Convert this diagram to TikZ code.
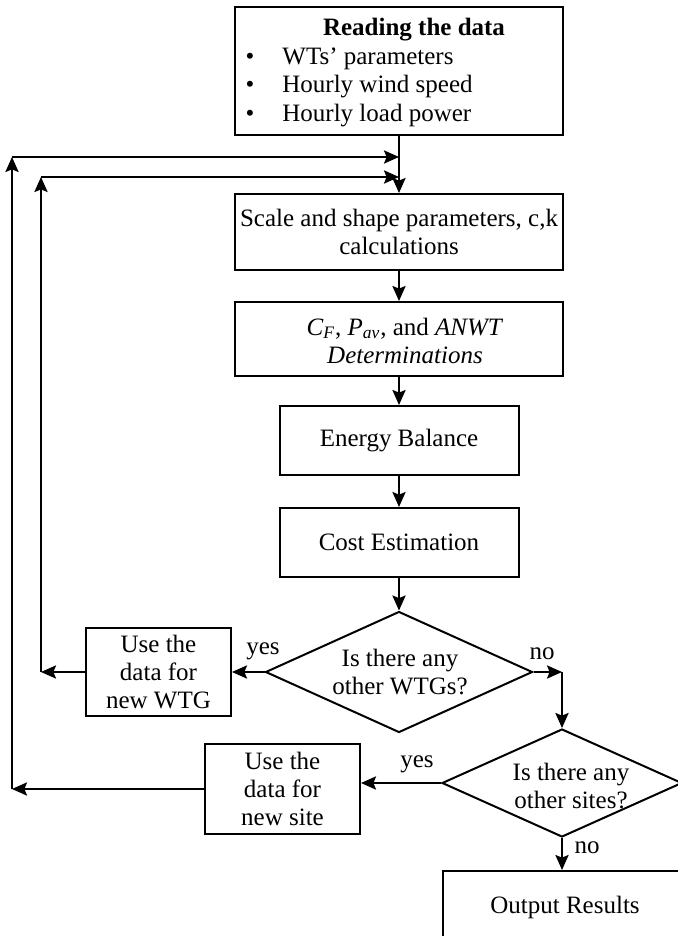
\documentclass[tikz,border=0pt]{standalone}
\usepackage{fontspec}
\setmainfont{Liberation Serif}
\usetikzlibrary{shapes.geometric,arrows.meta}
\begin{document}
\begin{tikzpicture}[x=0.5pt,y=-0.5pt,
  every node/.style={font=\fontsize{12.5}{14.2}\selectfont, inner sep=0pt},
  box/.style={draw, line width=1pt, align=center},
  dia/.style={draw, line width=1pt, shape=diamond, inner sep=0pt},
  conn/.style={line width=1pt, -{Stealth[length=7.5pt,width=6.6pt,inset=1.3pt]}},
  txt/.style={text height=9pt, text depth=3pt},
  ]
\useasboundingbox (0,0) rectangle (677,936);

% top box
\node[box, minimum width=164pt, minimum height=64pt] (read) at (399,71) {};
\node[font=\bfseries\fontsize{12.5}{14.2}\selectfont, txt] (title) at (414,30) {Reading the data};
\node[txt] (b1) at (250,59) {\textbullet};
\node[txt] (b2) at (250,87) {\textbullet};
\node[txt] (b3) at (250,116) {\textbullet};
\node[txt, anchor=west] (l1) at (282,59) {WTs’ parameters};
\node[txt, anchor=west] (l2) at (282,87) {Hourly wind speed};
\node[txt, anchor=west] (l3) at (282,116) {Hourly load power};

% process boxes
\node[box, minimum width=164pt, minimum height=38pt] (scale) at (399,232)
  {Scale and shape parameters, c,k\\calculations};
\node[box, minimum width=164pt, minimum height=37pt] (cf) at (399,339) {};
\node[align=center] (cftext) at (405,341)
  {\textit{C\textsubscript{F}}, \textit{P\textsubscript{av}}, and \textit{ANWT}\\\textit{Determinations}};
\node[box, minimum width=119.5pt, minimum height=34.5pt] (energy) at (399,440.5) {Energy Balance};
\node[box, minimum width=119.5pt, minimum height=34.5pt] (cost) at (399,542.5) {Cost Estimation};

% decision 1
\node[dia, minimum width=133.5pt, minimum height=60.5pt] (d1) at (399,672) {};
\node[align=center] (d1text) at (400,672) {Is there any\\other WTGs?};
\node[box, minimum width=72.5pt, minimum height=44pt] (wtg) at (158.5,672) {Use the\\data for\\new WTG};

% decision 2
\node[dia, minimum width=120pt, minimum height=54pt] (d2) at (562,783) {};
\node[align=center] (d2text) at (571,786) {Is there any\\other sites?};
\node[box, minimum width=77.5pt, minimum height=45pt] (site) at (282.5,789) {Use the\\data for\\new site};

% output
\node[draw, line width=1pt, minimum width=122pt, minimum height=36pt] (out) at (565,907) {Output Results};

% labels
\node (yes1) at (263,651) {yes};
\node (no1) at (542,654) {no};
\node (yes2) at (417,764) {yes};
\node (no2) at (587,848) {no};

% loop corners
\coordinate (c1) at (41,672);
\coordinate (c2) at (41,177);
\coordinate (j2) at (399,177);
\coordinate (c3) at (12,789);
\coordinate (c4) at (12,157);
\coordinate (j1) at (399,157);
\coordinate (k1) at (562,672);

% connectors
\draw[conn] (read.south) -- (scale.north);
\draw[conn] (scale.south) -- (cf.north);
\draw[conn] (cf.south) -- (energy.north);
\draw[conn] (energy.south) -- (cost.north);
\draw[conn] (cost.south) -- (d1.north);
\draw[conn] (d1.west) -- (wtg.east);
\draw[conn] (wtg.west) -- (c1);
\draw[conn] (c1) -- (c2);
\draw[conn] (c2) -- (j2);
\draw[conn] (d1.east) -- (k1);
\draw[conn] (k1) -- (d2.north);
\draw[conn] (d2.west) -- (d2.west -| site.east);
\draw[conn] (site.west) -- (c3);
\draw[conn] (c3) -- (c4);
\draw[conn] (c4) -- (j1);
\draw[conn] (d2.south) -- (d2.south |- out.north);
\end{tikzpicture}
\end{document}
